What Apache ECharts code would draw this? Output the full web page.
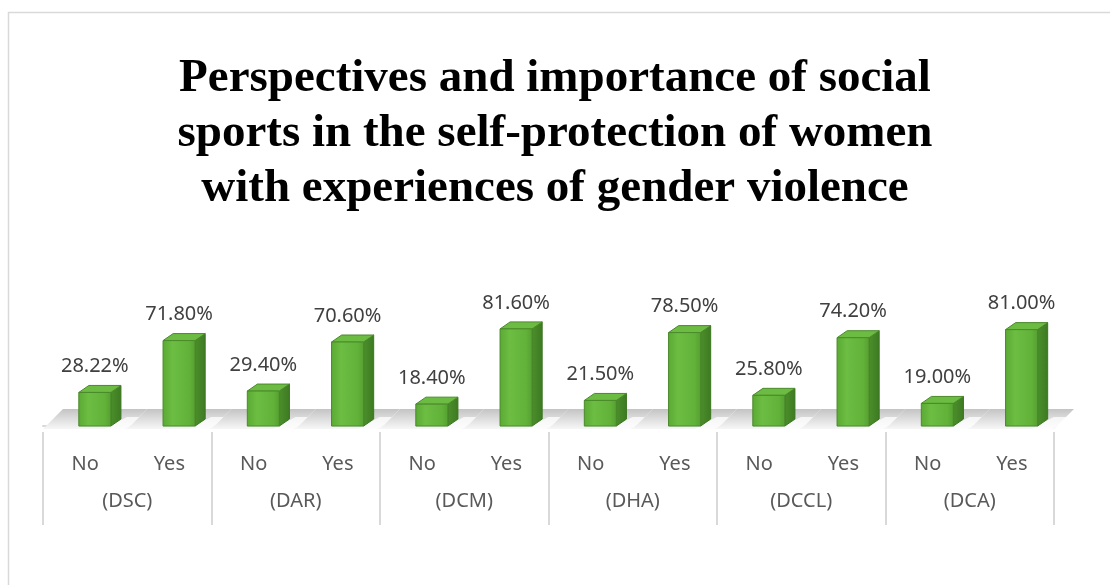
<!DOCTYPE html>
<html>
<head>
<meta charset="utf-8">
<script src="https://cdn.jsdelivr.net/npm/echarts@6/dist/echarts.min.js"></script>
<style>
html,body{margin:0;padding:0;background:#fff;}
#chart{width:1110px;height:585px;}
</style>
</head>
<body>
<div id="chart"></div>
<script>
var titleText = 'Perspectives and importance of social\nsports in the self-protection of women\nwith experiences of gender violence';
var groups = ['(DSC)', '(DAR)', '(DCM)', '(DHA)', '(DCCL)', '(DCA)'];
var answers = ['No', 'Yes'];
var noValues = [28.22, 29.40, 18.40, 21.50, 25.80, 19.00];
var yesValues = [71.80, 70.60, 81.60, 78.50, 74.20, 81.00];

var categories = [];
var barData = [];
groups.forEach(function (g, gi) {
  categories.push(answers[0]);
  barData.push([categories.length - 1, noValues[gi]]);
  categories.push(answers[1]);
  barData.push([categories.length - 1, yesValues[gi]]);
});

var chart = echarts.init(document.getElementById('chart'), null, {renderer: 'canvas'});

function geom(api) {
  var i = api.value(0), v = api.value(1);
  var base = api.coord([i, 0]);
  var top = api.coord([i, v]);
  var band = api.size([1, 0])[0];
  return {
    cx: base[0], band: band, yb: base[1], yt: top[1], v: v,
    x0: base[0] - band * 0.075, w: band * 0.38, dx: band * 0.12, dy: 7
  };
}

function renderFloor(params, api) {
  var g = geom(api);
  var left = g.cx - g.band / 2, right = g.cx + g.band / 2;
  var sh = 20, back = g.yb - 17, front = g.yb + 3;
  return {
    type: 'group',
    children: [{
      type: 'polygon',
      shape: {points: [[left, front], [right, front], [right + sh, back], [left + sh, back]]},
      style: {
        fill: new echarts.graphic.LinearGradient(0, 0, 0, 1, [
          {offset: 0, color: '#c4c4c4'},
          {offset: 0.6, color: '#e3e3e3'},
          {offset: 1, color: '#f7f7f7'}
        ])
      },
      silent: true
    }, {
      type: 'polygon',
      shape: {points: [[g.x0 + g.w + g.dx + 6, g.yb - g.dy - 2], [g.x0 + g.w + g.dx + 26, g.yb - g.dy - 2], [g.x0 + g.w + 14, front], [g.x0 + g.w - 6, front]]},
      style: {fill: 'rgba(255,255,255,0.75)'},
      silent: true
    }]
  };
}

function renderBar(params, api) {
  var g = geom(api);
  var x0 = g.x0, w = g.w, dx = g.dx, dy = g.dy, yb = g.yb, yt = g.yt;
  return {
    type: 'group',
    children: [{
      type: 'polygon',
      shape: {points: [[x0 + w, yt], [x0 + w + dx, yt - dy], [x0 + w + dx, yb - dy], [x0 + w, yb]]},
      style: {
        fill: new echarts.graphic.LinearGradient(0, 0, 1, 0, [
          {offset: 0, color: '#4c8f2b'},
          {offset: 1, color: '#3d7a22'}
        ]),
        stroke: '#3b7421', lineWidth: 1
      }
    }, {
      type: 'polygon',
      shape: {points: [[x0, yt], [x0 + dx, yt - dy], [x0 + w + dx, yt - dy], [x0 + w, yt]]},
      style: {fill: '#6cbb42', stroke: '#4a8a2a', lineWidth: 1}
    }, {
      type: 'rect',
      shape: {x: x0, y: yt, width: w, height: yb - yt},
      style: {
        fill: new echarts.graphic.LinearGradient(0, 0, 1, 0, [
          {offset: 0, color: '#5aa934'},
          {offset: 0.3, color: '#6cbd42'},
          {offset: 0.8, color: '#62b23a'},
          {offset: 1, color: '#559f31'}
        ]),
        stroke: '#4a8a2a', lineWidth: 1
      }
    }, {
      type: 'text',
      x: x0 + w / 2,
      y: yt - dy - 19,
      style: {
        text: g.v.toFixed(2) + '%',
        fill: '#404040',
        font: '20px "Noto Sans"',
        align: 'center',
        verticalAlign: 'middle'
      }
    }]
  };
}

var option = {
  animation: false,
  backgroundColor: '#ffffff',
  title: {
    text: titleText,
    left: 'center',
    top: 46,
    textStyle: {
      fontFamily: 'Liberation Serif',
      fontWeight: 'bold',
      fontSize: 47,
      lineHeight: 55,
      color: '#000000'
    }
  },
  graphic: [{
    type: 'rect',
    shape: {x: 8.5, y: 12.5, width: 1300, height: 800},
    style: {fill: 'none', stroke: '#d9d9d9', lineWidth: 1.5},
    silent: true,
    z: -1
  }],
  grid: {left: 43, right: 56, top: 307, bottom: 153},
  xAxis: [{
    type: 'category',
    data: categories,
    position: 'bottom',
    axisLine: {show: true, lineStyle: {color: '#d9d9d9', width: 2}},
    axisTick: {show: false},
    axisLabel: {color: '#595959', fontSize: 20, fontFamily: 'Noto Sans', margin: 22, interval: 0}
  }, {
    type: 'category',
    data: groups,
    position: 'bottom',
    axisLine: {show: false},
    axisTick: {show: true, length: 93, interval: 0, lineStyle: {color: '#d9d9d9', width: 2}},
    axisLabel: {color: '#595959', fontSize: 20, fontFamily: 'Noto Sans', margin: 59, interval: 0}
  }],
  yAxis: {
    type: 'value', min: -5, max: 100, show: false,
    splitLine: {show: false}
  },
  series: [{
    type: 'custom',
    renderItem: renderFloor,
    data: barData,
    xAxisIndex: 0,
    z: 1,
    silent: true
  }, {
    type: 'custom',
    renderItem: renderBar,
    data: barData,
    xAxisIndex: 0,
    z: 2
  }]
};
chart.setOption(option);
</script>
</body>
</html>
